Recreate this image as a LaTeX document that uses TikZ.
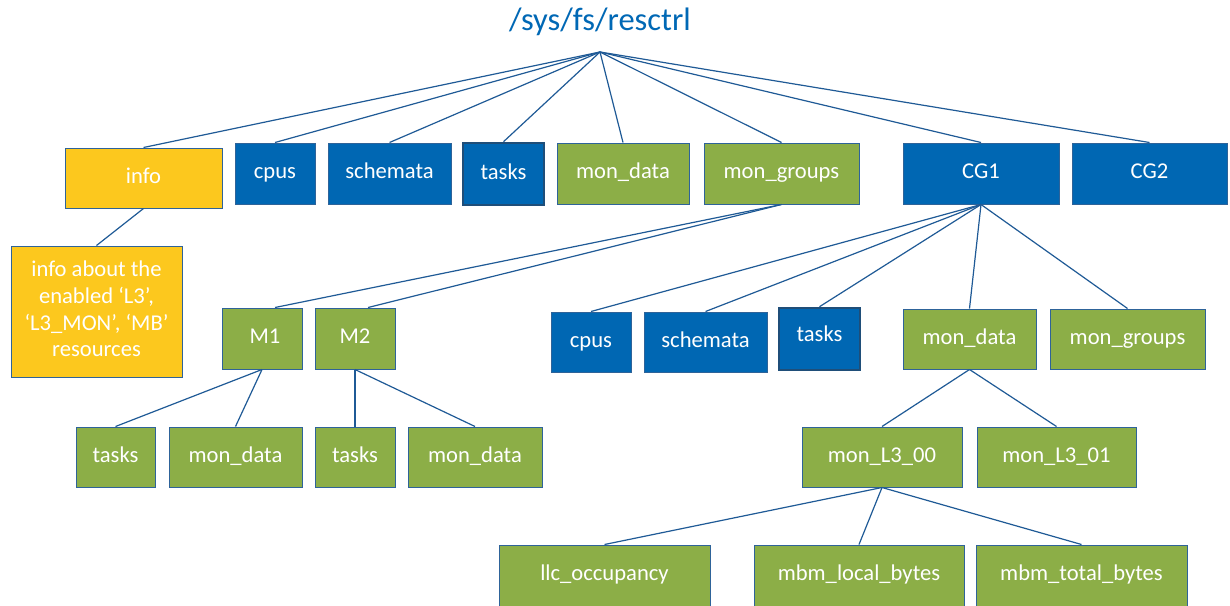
\documentclass[tikz,border=0pt]{standalone}
\usepackage{fontspec}
\setmainfont{Carlito}
\definecolor{myblue}{HTML}{0067B3}
\definecolor{mygreen}{HTML}{8CAE47}
\definecolor{myyellow}{HTML}{FCC81E}
\definecolor{bord}{HTML}{2E6399}
\definecolor{darkbord}{HTML}{1F4E79}
\definecolor{linec}{HTML}{1F5A96}
\definecolor{titlec}{HTML}{0068B5}
\tikzset{
  base/.style={draw=bord, line width=1pt, inner sep=0pt, text=white,
    font=\fontsize{22.6}{26.7}\selectfont},
  box/.style={base, text height=15pt, text depth=5pt},
  bbox/.style={box, fill=myblue},
  gbox/.style={box, fill=mygreen},
  ybox/.style={box, fill=myyellow},
  tbox/.style={bbox, draw=darkbord, line width=2.6pt},
  conn/.style={draw=linec, line width=1.2pt},
  sz/.style 2 args={minimum width=#1pt, minimum height=#2pt}
}
\begin{document}
\begin{tikzpicture}[x=1pt,y=-1pt]
\useasboundingbox (0,0) rectangle (1230,605);
\fill[white] (0,0) rectangle (1230,605);
\node[anchor=base, text=titlec, font=\fontsize{32.5}{38}\selectfont] (title) at (600,30) {/sys/fs/resctrl};
\coordinate (hub) at (600,52);
% row 1
\node[ybox, sz={157}{60}] (info) at (143.5,178) {info};
\node[bbox, sz={80}{61}] (cpus) at (275,173.5) {cpus};
\node[bbox, sz={123}{61}] (sch) at (389.5,173.5) {schemata};
\node[tbox, sz={81}{62}] (tasks) at (503.5,174) {tasks};
\node[gbox, sz={132}{61}] (md) at (623,173.5) {mon\_data};
\node[gbox, sz={155}{61}] (mg) at (781.5,173.5) {mon\_groups};
\node[bbox, sz={156}{61}] (cg1) at (981,173.5) {CG1};
\node[bbox, sz={155}{61}] (cg2) at (1149.5,173.5) {CG2};
% info detail
\node[base, fill=myyellow, sz={171}{131}] (infoa) at (96.5,311.5) {\raisebox{3pt}{\begin{tabular}{@{}c@{}}info about the\\enabled ‘L3’,\\‘L3\_MON’, ‘MB’\\resources\end{tabular}}};
% M groups
\node[gbox, sz={80}{61}] (m1) at (262,338.5) {\hspace{6pt}M1};
\node[gbox, sz={80}{61}] (m2) at (355,338.5) {M2};
\node[gbox, sz={79}{60}] (t1) at (115.5,457) {tasks};
\node[gbox, sz={133}{60}] (d1) at (235.5,457) {mon\_data};
\node[gbox, sz={80}{60}] (t2) at (355,457) {tasks};
\node[gbox, sz={134}{60}] (d2) at (475,457) {mon\_data};
% CG1 children
\node[bbox, sz={80}{60}] (cpus2) at (591,342) {cpus};
\node[bbox, sz={123}{60}] (sch2) at (705.5,342) {schemata};
\node[tbox, sz={81}{62}] (tasks2) at (819.5,339) {\raisebox{3pt}{tasks}};
\node[gbox, sz={133}{60}] (md2) at (969.5,339) {mon\_data};
\node[gbox, sz={155}{60}] (mg2) at (1127.5,339) {mon\_groups};
\node[gbox, sz={160}{60}] (l300) at (882,457) {mon\_L3\_00};
\node[gbox, sz={159}{60}] (l301) at (1056.5,457) {mon\_L3\_01};
\node[gbox, sz={211}{61}] (llc) at (604.5,575.5) {llc\_occupancy};
\node[gbox, sz={210}{61}] (mbl) at (859,575.5) {mbm\_local\_bytes};
\node[gbox, sz={211}{61}] (mbt) at (1081.5,575.5) {mbm\_total\_bytes};
% connectors
\foreach \n in {info,cpus,sch,tasks,md,mg,cg1,cg2}
  \draw[conn] (hub) -- (\n.north);
\draw[conn] (info.south) -- (infoa.north);
\draw[conn] (mg.south) -- ([xshift=13pt]m1.north);
\draw[conn] (mg.south) -- ([xshift=13pt]m2.north);
\draw[conn] (m1.south) -- (t1.north);
\draw[conn] (m1.south) -- (d1.north);
\draw[conn] (m2.south) -- (t2.north);
\draw[conn] (m2.south) -- (d2.north);
\foreach \n in {cpus2,sch2,tasks2,md2,mg2}
  \draw[conn] (cg1.south) -- (\n.north);
\draw[conn] (md2.south) -- (l300.north);
\draw[conn] (md2.south) -- (l301.north);
\foreach \n in {llc,mbl,mbt}
  \draw[conn] (l300.south) -- (\n.north);
\end{tikzpicture}
\end{document}
